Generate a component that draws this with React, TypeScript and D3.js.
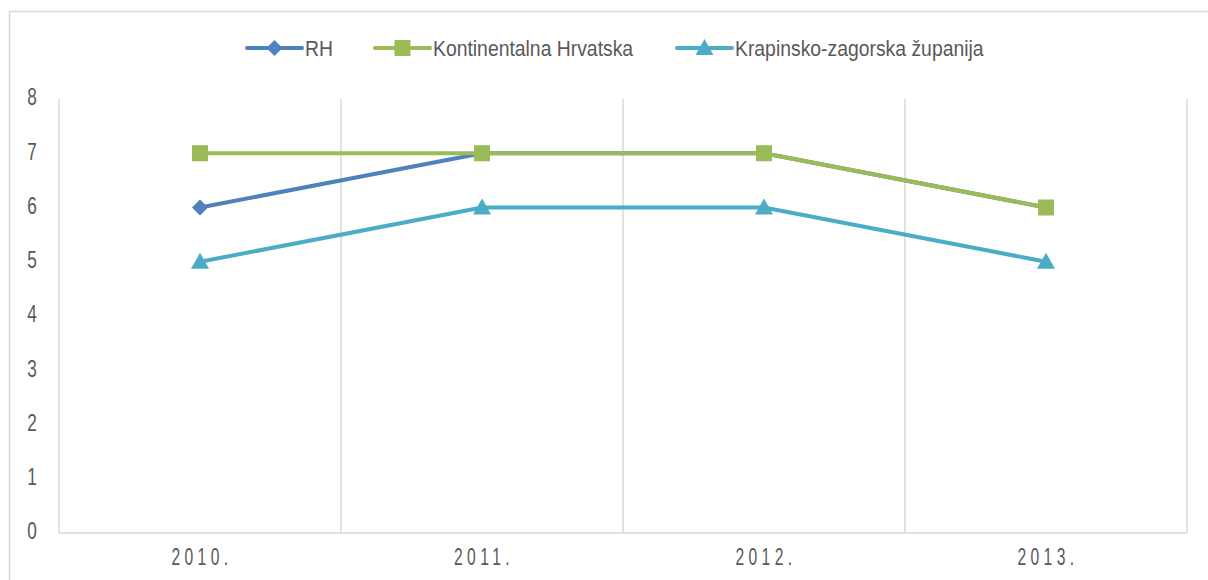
import React from "react";
import * as d3 from "d3";

const years = ["2010.", "2011.", "2012.", "2013."];
const rh = [6, 7, 7, 6];
const kontinentalna = [7, 7, 7, 6];
const krapinsko = [5, 6, 6, 5];
const yTicks = [0, 1, 2, 3, 4, 5, 6, 7, 8];

const seriesList = [
  { name: "RH", values: rh, color: "#4f81bd", marker: "diamond" },
  { name: "Kontinentalna Hrvatska", values: kontinentalna, color: "#9bbb59", marker: "square" },
  { name: "Krapinsko-zagorska županija", values: krapinsko, color: "#4bacc6", marker: "triangle" },
];

const W = 1208, H = 580;
const left = 59, right = 1187, top = 99, bottom = 533;
const font = "'Liberation Sans', Arial, sans-serif";

function Marker({ type, x, y, color }: { type: string; x: number; y: number; color: string }) {
  if (type === "square") return <rect x={x - 8} y={y - 8} width={16} height={16} fill={color} />;
  if (type === "diamond") {
    const p = `M${x},${y - 8} L${x + 8},${y} L${x},${y + 8} L${x - 8},${y} Z`;
    return <path d={p} fill={color} />;
  }
  const p = `M${x},${y - 9} L${x + 9},${y + 7} L${x - 9},${y + 7} Z`;
  return <path d={p} fill={color} />;
}

export default function App() {
  const x = d3.scaleBand<string>().domain(years).range([left, right]);
  const y = d3.scaleLinear().domain([0, 8]).range([bottom, top]);
  const cx = (d: string) => (x(d) as number) + x.bandwidth() / 2;

  const legend = [
    { lx: 247, tx: 305 },
    { lx: 375, tx: 433 },
    { lx: 677, tx: 735 },
  ];

  return (
    <svg width={W} height={H} style={{ position: "absolute", left: 0, top: 0, background: "#fff" }}>
      <rect x={9.5} y={11.5} width={1220} height={600} fill="#fff" stroke="#d9d9d9" strokeWidth={1.5} />
      {years.map((d, i) => (
        <line key={i} x1={(x(d) as number) + x.bandwidth()} x2={(x(d) as number) + x.bandwidth()} y1={top} y2={bottom} stroke="#d9d9d9" strokeWidth={1.5} />
      ))}
      <line x1={left} x2={left} y1={top} y2={bottom} stroke="#d9d9d9" strokeWidth={1.5} />
      <line x1={left} x2={right} y1={bottom} y2={bottom} stroke="#d9d9d9" strokeWidth={1.5} />
      {yTicks.map((t) => (
        <g key={t} transform={`translate(32,${y(t) - 2}) scale(0.75,1)`}>
          <text x={0} y={0} dy="0.36em" textAnchor="middle" fontFamily={font} fontSize={23} fill="#595959">{t}</text>
        </g>
      ))}
      {years.map((d) => (
        <g key={d} transform={`translate(${cx(d) + 2},557) scale(0.68,1)`}>
          <text x={0} y={0} dy="0.36em" textAnchor="middle" fontFamily={font} fontSize={23} letterSpacing={6.5} fill="#595959">{d}</text>
        </g>
      ))}
      {seriesList.map((s) => {
        const line = d3.line<number>().x((_, i) => cx(years[i])).y((v) => y(v));
        return (
          <g key={s.name}>
            <path d={line(s.values) || ""} fill="none" stroke={s.color} strokeWidth={4} strokeLinejoin="round" />
            {s.values.map((v, i) => (
              <Marker key={i} type={s.marker} x={cx(years[i])} y={y(v)} color={s.color} />
            ))}
          </g>
        );
      })}
      {seriesList.map((s, i) => (
        <g key={s.name}>
          <line x1={legend[i].lx} x2={legend[i].lx + 55} y1={48} y2={48} stroke={s.color} strokeWidth={4} strokeLinecap="round" />
          <Marker type={s.marker} x={legend[i].lx + 27.5} y={48} color={s.color} />
          <g transform={`translate(${legend[i].tx},48) scale(0.88,1)`}>
            <text x={0} y={0} dy="0.36em" fontFamily={font} fontSize={22} fill="#595959">{s.name}</text>
          </g>
        </g>
      ))}
    </svg>
  );
}
